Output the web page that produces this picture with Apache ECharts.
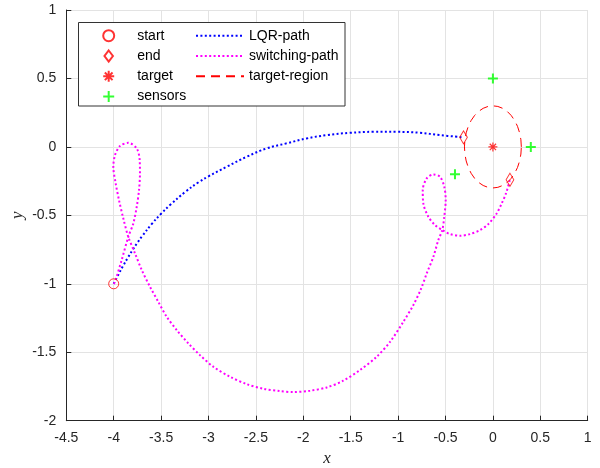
<!DOCTYPE html>
<html>
<head>
<meta charset="utf-8">
<script src="https://cdn.jsdelivr.net/npm/echarts@6/dist/echarts.min.js"></script>
<style>html,body{margin:0;padding:0;background:#fff;}#chart{width:600px;height:468px;}</style>
</head>
<body>
<div id="chart"></div>
<script>
// ---- data ----
const lqrX = [-4.0, -3.95, -3.9, -3.85, -3.8, -3.75, -3.7, -3.6, -3.5, -3.4, -3.25, -3.1, -3.0, -2.808, -2.597, -2.386, -2.175, -1.964, -1.753, -1.507, -1.262, -1.015, -0.769, -0.558, -0.31];
const lqrY = [-1.0, -0.932, -0.868, -0.808, -0.752, -0.700, -0.652, -0.564, -0.488, -0.421, -0.331, -0.256, -0.215, -0.145, -0.072, -0.011, 0.026, 0.062, 0.086, 0.103, 0.110, 0.110, 0.103, 0.086, 0.07];

const swX = [-4.0, -3.986, -3.916, -3.846, -3.793, -3.757, -3.733, -3.723, -3.726, -3.757, -3.846, -3.934, -3.986, -4.004, -3.979, -3.944, -3.899, -3.846, -3.775, -3.705, -3.617, -3.53, -3.441, -3.335, -3.213, -3.09, -2.949, -2.773, -2.597, -2.42, -2.246, -2.105, -1.929, -1.753, -1.578, -1.402, -1.226, -1.085, -0.945, -0.84, -0.76, -0.698, -0.628, -0.576, -0.534, -0.513, -0.498, -0.513, -0.558, -0.628, -0.698, -0.74, -0.734, -0.681, -0.611, -0.534, -0.452, -0.347, -0.242, -0.136, -0.048, 0.04, 0.093, 0.138, 0.18];
const swY = [-1.0, -0.985, -0.827, -0.657, -0.559, -0.437, -0.316, -0.194, -0.096, -0.011, 0.030, 0.006, -0.06, -0.145, -0.267, -0.389, -0.522, -0.657, -0.778, -0.898, -1.022, -1.131, -1.241, -1.338, -1.435, -1.521, -1.606, -1.679, -1.733, -1.767, -1.784, -1.791, -1.781, -1.757, -1.708, -1.630, -1.533, -1.424, -1.278, -1.156, -1.04, -0.924, -0.803, -0.681, -0.608, -0.51, -0.389, -0.291, -0.218, -0.201, -0.23, -0.316, -0.413, -0.51, -0.571, -0.608, -0.637, -0.649, -0.637, -0.608, -0.564, -0.486, -0.413, -0.34, -0.24];

const regionX = [0.3, 0.2954, 0.2819, 0.2598, 0.2298, 0.1928, 0.15, 0.1026, 0.0521, 0, -0.0521, -0.1026, -0.15, -0.1928, -0.2298, -0.2598, -0.2819, -0.2954, -0.3, -0.2954, -0.2819, -0.2598, -0.2298, -0.1928, -0.15, -0.1026, -0.0521, 0, 0.0521, 0.1026, 0.15, 0.1928, 0.2298, 0.2598, 0.2819, 0.2954, 0.3];
const regionY = [0, 0.0521, 0.1026, 0.15, 0.1928, 0.2298, 0.2598, 0.2819, 0.2954, 0.3, 0.2954, 0.2819, 0.2598, 0.2298, 0.1928, 0.15, 0.1026, 0.0521, 0, -0.0521, -0.1026, -0.15, -0.1928, -0.2298, -0.2598, -0.2819, -0.2954, -0.3, -0.2954, -0.2819, -0.2598, -0.2298, -0.1928, -0.15, -0.1026, -0.0521, 0];

const startX = [-4.0], startY = [-1.0];
const endX = [-0.31, 0.18], endY = [0.07, -0.24];
const targetX = [0], targetY = [0];
const sensorX = [0, 0.4, -0.4], sensorY = [0.5, 0, -0.2];

const markerNames = ['start', 'end', 'target', 'sensors'];
const lineNames = ['LQR-path', 'switching-path', 'target-region'];

// ---- helpers ----
const pairs = (xs, ys) => xs.map((x, i) => [x, ys[i]]);
const txt = '#262626';
const fontFam = '"Liberation Sans", Arial, Helvetica, sans-serif';

const plusPath = 'path://M5,0 L5,10 M0,5 L10,5';
const starPath = 'path://M5,0 L5,10 M0,5 L10,5 M1.5,1.5 L8.5,8.5 M1.5,8.5 L8.5,1.5';
const diamondPath = 'path://M5,0 L10,6.5 L5,13 L0,6.5 Z';

const chart = echarts.init(document.getElementById('chart'), null, {renderer: 'canvas'});
const option = {
  animation: false,
  backgroundColor: '#fff',
  grid: {left: 66.3, right: 12.3, top: 10, bottom: 47.3, containLabel: false, outerBoundsMode: 'none'},
  xAxis: {
    type: 'value', min: -4.5, max: 1, interval: 0.5,
    name: 'x', nameLocation: 'middle', nameGap: 29,
    nameTextStyle: {fontFamily: '"Liberation Serif", "DejaVu Serif", serif', fontStyle: 'italic', fontSize: 17, color: txt},
    axisLine: {show: true, onZero: false, lineStyle: {color: txt, width: 1}},
    axisTick: {show: true, inside: true, length: 5, lineStyle: {color: txt}},
    axisLabel: {color: txt, fontSize: 14, fontFamily: fontFam, margin: 10},
    splitLine: {show: true, lineStyle: {color: '#e3e3e3', width: 1}}
  },
  yAxis: {
    type: 'value', min: -2, max: 1, interval: 0.5,
    name: 'y', nameLocation: 'middle', nameGap: 40, nameRotate: 90, nameMoveOverlap: false,
    nameTextStyle: {fontFamily: '"Liberation Serif", "DejaVu Serif", serif', fontStyle: 'italic', fontSize: 17, color: txt},
    axisLine: {show: true, onZero: false, lineStyle: {color: txt, width: 1}},
    axisTick: {show: true, inside: true, length: 5, lineStyle: {color: txt}},
    axisLabel: {color: txt, fontSize: 14, fontFamily: fontFam, margin: 10},
    splitLine: {show: true, lineStyle: {color: '#e3e3e3', width: 1}}
  },
  graphic: [{
    type: 'rect', z: 3,
    shape: {x: 78.5, y: 22.5, width: 266.5, height: 83.5},
    style: {fill: '#fff', stroke: '#333', lineWidth: 1}
  }],
  legend: [{
    data: markerNames, orient: 'vertical', left: 102.2, top: 28.7, padding: 0,
    itemWidth: 11, itemHeight: 11, itemGap: 6.3, z: 10, symbolKeepAspect: true,
    selectedMode: false,
    textStyle: {fontSize: 14, lineHeight: 14, color: '#000', fontFamily: fontFam, padding: [0, 0, 0, 18]}
  }, {
    data: lineNames, orient: 'vertical', left: 195, top: 28.7, padding: 0,
    itemWidth: 48, itemHeight: 10, itemGap: 6.3, z: 10,
    itemStyle: {opacity: 0},
    selectedMode: false,
    textStyle: {fontSize: 14, lineHeight: 14, color: '#000', fontFamily: fontFam}
  }],
  series: [
    {
      name: 'LQR-path', type: 'line', data: pairs(lqrX, lqrY), symbol: 'none', smooth: 0.4, z: 2,
      lineStyle: {color: '#0000ff', width: 2, type: [2, 2.4]}, itemStyle: {color: '#0000ff'}
    },
    {
      name: 'switching-path', type: 'line', data: pairs(swX, swY), symbol: 'none', smooth: 0.3, z: 2,
      lineStyle: {color: '#ff00ff', width: 2, type: [2, 2.4]}, itemStyle: {color: '#ff00ff'}
    },
    {
      name: 'target-region', type: 'line', data: pairs(regionX, regionY), symbol: 'none', smooth: false, z: 2,
      lineStyle: {color: '#ff0000', width: 1, type: [9, 6]}, itemStyle: {color: '#ff0000'}
    },
    {
      name: 'start', type: 'scatter', data: pairs(startX, startY), symbol: 'circle', symbolSize: 10, z: 5,
      itemStyle: {color: 'rgba(0,0,0,0)', borderColor: '#ff0000', borderWidth: 1}
    },
    {
      name: 'end', type: 'scatter', data: pairs(endX, endY), symbol: diamondPath, symbolSize: [10, 13], z: 5,
      symbolKeepAspect: true,
      itemStyle: {color: 'rgba(0,0,0,0)', borderColor: '#ff0000', borderWidth: 1}
    },
    {
      name: 'target', type: 'scatter', data: pairs(targetX, targetY), symbol: starPath, symbolSize: 9, z: 5,
      itemStyle: {color: 'rgba(0,0,0,0)', borderColor: '#ff0000', borderWidth: 1.2}
    },
    {
      name: 'sensors', type: 'scatter', data: pairs(sensorX, sensorY), symbol: plusPath, symbolSize: 10, z: 5,
      itemStyle: {color: 'rgba(0,0,0,0)', borderColor: '#00ff00', borderWidth: 2}
    }
  ]
};
chart.setOption(option);
</script>
</body>
</html>
